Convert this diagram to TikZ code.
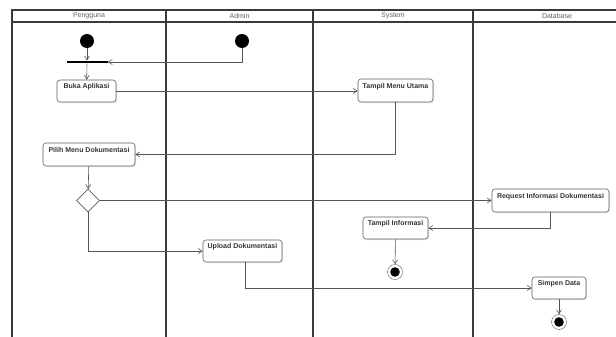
\documentclass[tikz,border=0pt]{standalone}
\usepackage{fontspec}
\setmainfont{Liberation Sans}
\usepackage{tikz}
\usetikzlibrary{arrows.meta,positioning,shapes.geometric,shadows}
\definecolor{lane}{HTML}{3A3A3A}
\definecolor{wire}{HTML}{555555}
\definecolor{edge}{HTML}{5E5E5E}
\definecolor{head}{HTML}{606060}

\tikzset{
  act/.style={draw=edge,line width=0.6pt,rounded corners=3pt,fill=white,
    drop shadow={opacity=0.2,shadow xshift=1pt,shadow yshift=-1pt},
    font=\fontsize{7}{8}\selectfont\bfseries,text=black!80,
    inner xsep=2pt,inner ysep=3.5pt,text height=5pt,text depth=9.5pt},
  startdot/.style={circle,fill=black,minimum size=14pt,inner sep=0pt},
  enddot/.style={circle,draw=edge,fill=white,minimum size=15pt,inner sep=0pt,
    path picture={\fill[black] (path picture bounding box.center) circle (4.8pt);}},
  forkbar/.style={rectangle,fill=black,minimum width=41pt,minimum height=2.6pt,inner sep=0pt},
  choice/.style={diamond,draw=edge,line width=0.6pt,fill=white,minimum size=23pt,inner sep=0pt},
  flow/.style={->,draw=wire,line width=0.6pt,>={Straight Barb[length=4pt,width=5pt]}},
  lanetitle/.style={font=\fontsize{7}{8}\selectfont,text=head}
}

\begin{document}
\begin{tikzpicture}[x=1pt,y=-1pt]
\useasboundingbox (0,0) rectangle (616,337);
\begin{scope}
\clip (0,0) rectangle (616,337);
% swimlanes
\draw[lane,line width=1.3pt] (12,337) -- (12,10) -- (660,10);
\draw[lane,line width=1.3pt] (12,22) -- (660,22);
\foreach \x in {166,313,473} \draw[lane,line width=1.3pt] (\x,10) -- (\x,337);
\end{scope}
\node[lanetitle] (tPengguna) at (89,16) {Pengguna};
\node[lanetitle] (tAdmin) at (239.5,16) {Admin};
\node[lanetitle] (tSystem) at (393,16) {System};
\node[lanetitle] (tDatabase) at (557,16) {Database};

% nodes
\node[startdot] (start1) at (87,41) {};
\node[startdot] (start2) at (242,41) {};
\node[forkbar] (fork) at (87,62) {};
\node[act,minimum width=59pt,minimum height=22pt] (buka) at (86.5,91) {Buka Aplikasi};
\node[act,minimum width=75pt,minimum height=23pt] (menu) at (395.5,90.5) {Tampil Menu Utama};
\node[act,minimum width=92pt,minimum height=23pt] (pilih) at (89,154.5) {Pilih Menu Dokumentasi};
\node[choice] (cek) at (88,200.5) {};
\node[act,minimum width=117pt,minimum height=23pt] (req) at (550.5,200.5) {Request Informasi Dokumentasi};
\node[act,minimum width=65pt,minimum height=22pt] (info) at (395.5,228) {Tampil Informasi};
\node[enddot] (end1) at (395,272) {};
\node[act,minimum width=79pt,minimum height=22pt] (upload) at (242.5,251) {Upload Dokumentasi};
\node[act,minimum width=54pt,minimum height=22pt] (simpen) at (559,288) {Simpen Data};
\node[enddot] (end2) at (559,322) {};

% connectors
\draw[flow] (start1) -- (fork);
\draw[flow] (start2) |- (fork.east);
\draw[flow] (fork) -- (buka);
\draw[flow] (buka.east) -- (buka.east -| menu.west);
\draw[flow] (menu.south) |- (pilih.east);
\draw[flow] (pilih) -- (cek);
\draw[flow] (cek.east) -- (cek.east -| req.west);
\draw[flow] (req.south) |- (info.east);
\draw[flow] (info) -- (end1);
\draw[flow] (cek.south) |- (upload.west);
\draw[flow] ([xshift=2.5pt]upload.south) |- (simpen.west);
\draw[flow] (simpen) -- (end2);
\end{tikzpicture}
\end{document}
